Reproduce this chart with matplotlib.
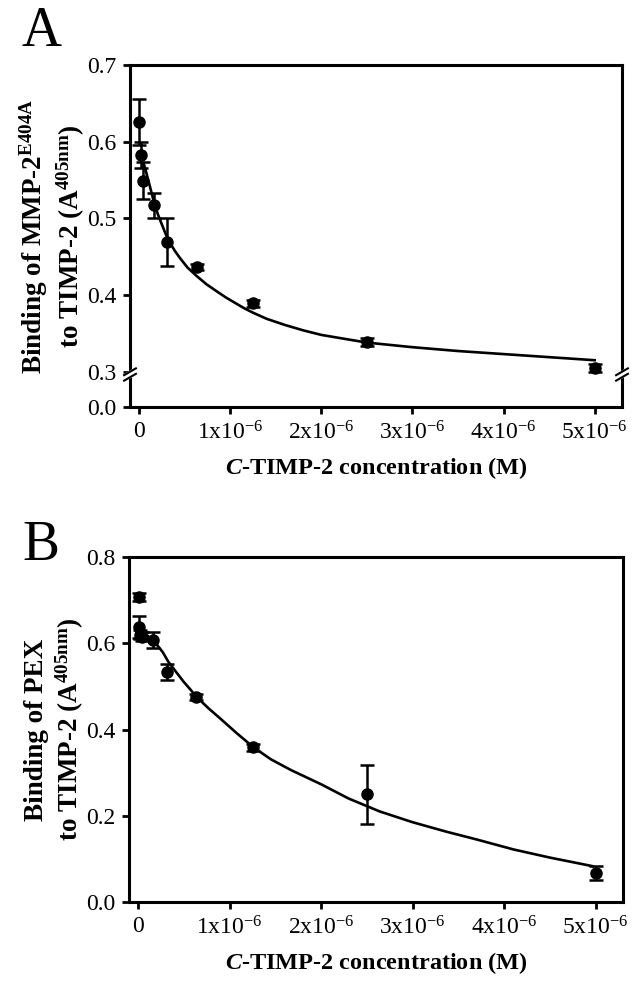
import matplotlib
matplotlib.use("Agg")
from matplotlib import pyplot as plt

plt.rcParams['font.family'] = ['Liberation Serif', 'DejaVu Serif']
plt.rcParams['mathtext.fontset'] = 'custom'
plt.rcParams['mathtext.rm'] = 'Liberation Serif'
plt.rcParams['mathtext.bf'] = 'Liberation Serif:bold'
plt.rcParams['mathtext.it'] = 'Liberation Serif:italic:bold'

# concentrations in uM (axis is in M)
concA = [0.0, 0.02, 0.04, 0.16, 0.31, 0.63, 1.25, 2.5, 5.0]
bindA = [0.626, 0.583, 0.549, 0.517, 0.469, 0.437, 0.389, 0.339, 0.305]
errA = [0.030, 0.017, 0.024, 0.016, 0.031, 0.004, 0.005, 0.005, 0.005]
fitA_x = [0.05, 0.08, 0.12, 0.17, 0.21, 0.25, 0.29, 0.33, 0.39, 0.45, 0.53, 0.63,
          0.74, 0.85, 0.95, 1.05, 1.15, 1.25, 1.4, 1.6, 1.8, 2.0, 2.25, 2.5,
          2.75, 3.0, 3.5, 4.0, 4.5, 5.0]
fitA_y = [0.572, 0.559, 0.541, 0.518, 0.504, 0.492, 0.480, 0.470, 0.458, 0.448,
          0.436, 0.425, 0.414, 0.405, 0.397, 0.390, 0.383, 0.377, 0.369, 0.361,
          0.354, 0.348, 0.343, 0.338, 0.335, 0.332, 0.327, 0.323, 0.319, 0.315]

concB = [0.01, 0.01, 0.02, 0.04, 0.16, 0.32, 0.63, 1.25, 2.5, 5.0]
bindB = [0.707, 0.638, 0.620, 0.615, 0.608, 0.534, 0.476, 0.359, 0.250, 0.068]
errB = [0.010, 0.025, 0.010, 0.010, 0.018, 0.019, 0.007, 0.008, 0.068, 0.016]
fitB_x = [0.11, 0.2, 0.27, 0.33, 0.42, 0.5, 0.57, 0.636, 0.77, 0.9, 1.08, 1.26,
          1.45, 1.67, 2.0, 2.3, 2.64, 3.0, 3.37, 3.7, 4.1, 4.5, 4.97]
fitB_y = [0.616, 0.598, 0.579, 0.557, 0.532, 0.510, 0.493, 0.476, 0.449, 0.425,
          0.391, 0.359, 0.331, 0.306, 0.273, 0.240, 0.210, 0.185, 0.163, 0.145,
          0.122, 0.103, 0.083]

xticks = [0, 1, 2, 3, 4, 5]
xlabels = ['0'] + ['%dx10$^{\\mathrm{-6}}$' % i for i in range(1, 6)]
yticksA = [0.254, 0.3, 0.4, 0.5, 0.6, 0.7]
ylabelsA = ['0.0', '0.3', '0.4', '0.5', '0.6', '0.7']
yticksB = [0.0, 0.2, 0.4, 0.6, 0.8]
ylabelsB = ['0.0', '0.2', '0.4', '0.6', '0.8']

fig = plt.figure(figsize=(6.38, 10), dpi=100)
axA = fig.add_axes([130/638, 1-407/1000, 492/638, 342/1000])
axB = fig.add_axes([129/638, 1-902/1000, 494/638, 345/1000])


def style(ax):
    for s in ax.spines.values():
        s.set_linewidth(2.2)
    ax.tick_params(direction='out', length=5, width=2, labelsize=17, pad=5)
    ax.set_xlim(-0.1, 5.3)
    ax.set_xticks(xticks)
    ax.set_xticklabels(xlabels)
    ax.set_xlabel('$\\it{C}$-TIMP-2 concentration (M)', fontsize=17.5,
                  fontweight='bold', labelpad=8)


axA.errorbar(concA, bindA, yerr=errA, fmt='o', color='k', ms=8, capsize=5,
             elinewidth=1.8, capthick=1.8, zorder=3)
axA.plot(fitA_x, fitA_y, color='k', lw=1.9)
style(axA)
axA.set_ylim(0.254, 0.7)
axA.set_yticks(yticksA)
axA.set_yticklabels(ylabelsA)
axA.set_ylabel('Binding of MMP-2$^{\\mathbf{E404A}}$\nto TIMP-2 (A$^{\\mathbf{405nm}}$)',
               fontsize=19.5, fontweight='bold', labelpad=0, linespacing=1.2)

# axis break marks
for xb in (0.0, 1.0):
    axA.plot([xb - 0.012, xb + 0.012], [0.085, 0.105], transform=axA.transAxes,
             color='w', lw=5, clip_on=False, zorder=5)
    for dy in (-0.008, 0.008):
        axA.plot([xb - 0.012, xb + 0.012], [0.085 + dy, 0.105 + dy],
                 transform=axA.transAxes, color='k', lw=1.5, clip_on=False, zorder=6)

axB.errorbar(concB, bindB, yerr=errB, fmt='o', color='k', ms=8, capsize=5,
             elinewidth=1.8, capthick=1.8, zorder=3)
axB.plot(fitB_x, fitB_y, color='k', lw=1.9)
style(axB)
axB.set_ylim(0, 0.8)
axB.set_yticks(yticksB)
axB.set_yticklabels(ylabelsB)
axB.set_ylabel('Binding of PEX\nto TIMP-2 (A$^{\\mathbf{405nm}}$)',
               fontsize=19.5, fontweight='bold', labelpad=0, linespacing=1.2)

fig.text(22/638, 1-46/1000, 'A', fontsize=40)
fig.text(22/638, 1-560/1000, 'B', fontsize=40)

fig.savefig('out.png', dpi=100)
